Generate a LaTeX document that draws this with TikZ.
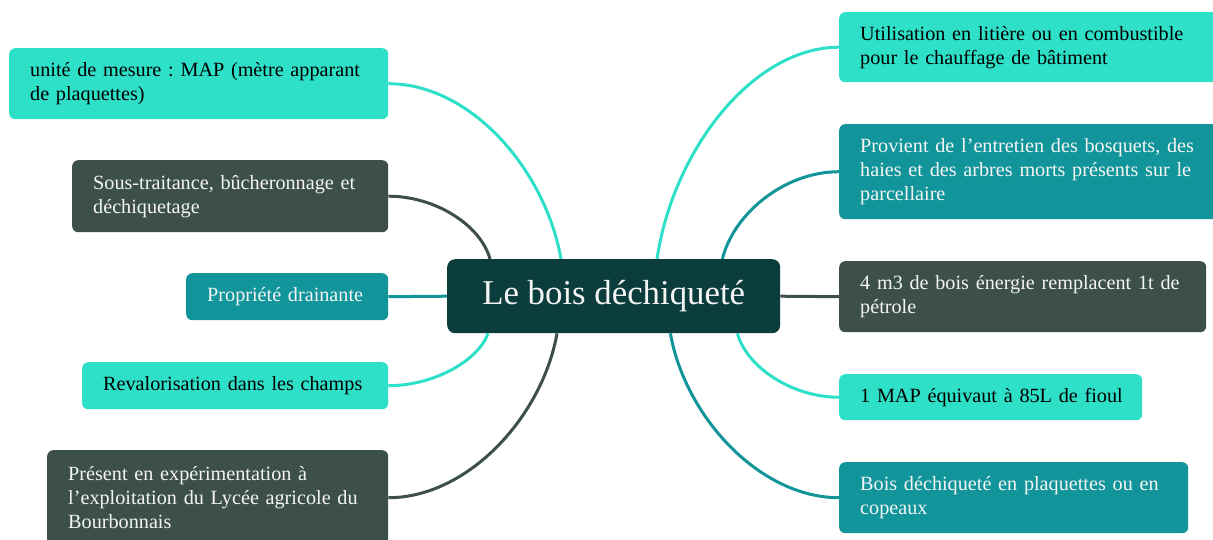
\documentclass[tikz,border=0pt]{standalone}
\usepackage{fontspec}
\setmainfont{Liberation Serif}
\usetikzlibrary{calc,backgrounds}
\definecolor{cTurq}{HTML}{2EE0C8}
\definecolor{cTeal}{HTML}{12959A}
\definecolor{cDark}{HTML}{3D4F4B}
\definecolor{cCore}{HTML}{0B3D3D}
\definecolor{cLight}{HTML}{F4F4F4}
\frenchspacing
\tikzset{
  mmbox/.style={rounded corners=6pt, anchor=north west, inner xsep=21pt, inner ysep=0pt,
    align=left, font=\fontsize{20.2}{24}\selectfont},
  turqbox/.style={mmbox, fill=cTurq, text=black},
  tealbox/.style={mmbox, fill=cTeal, text=cLight},
  darkbox/.style={mmbox, fill=cDark, text=cLight},
  corebox/.style={fill=cCore, rounded corners=8pt, anchor=north west, inner sep=0pt,
    text=cLight, font=\fontsize{34.8}{40}\selectfont},
  link/.style={line width=3pt},
}
\begin{document}
\begin{tikzpicture}[x=1pt,y=-1pt]
\useasboundingbox (0,0) rectangle (1213,539);
\clip (0,0) rectangle (1213,539);

\node[corebox, minimum width=333pt, minimum height=74pt] (ctr) at (447,259) {Le bois déchiqueté};

% left
\node[turqbox, text width=337pt, minimum height=71pt] (L1) at (9,48)
  {\mbox{unité de mesure : MAP (mètre apparant}\\de plaquettes)};
\node[darkbox, text width=274pt, minimum height=72pt] (L2) at (72,160)
  {\mbox{Sous-traitance, bûcheronnage et}\\déchiquetage};
\node[tealbox, text width=160pt, minimum height=47pt] (L3) at (186,273)
  {\mbox{Propriété drainante}};
\node[turqbox, text width=264pt, minimum height=47pt] (L4) at (82,362)
  {\mbox{Revalorisation dans les champs}};
\node[darkbox, text width=299pt, minimum height=95pt] (L5) at (47,450)
  {\mbox{Présent en expérimentation à}\\\mbox{l’exploitation du Lycée agricole du}\\Bourbonnais};

% right
\node[turqbox, text width=337pt, minimum height=70pt] (R1) at (839,12)
  {\mbox{Utilisation en litière ou en combustible}\\\mbox{pour le chauffage de bâtiment}};
\node[tealbox, text width=337pt, minimum height=95pt] (R2) at (839,124)
  {\mbox{Provient de l’entretien des bosquets, des}\\\mbox{haies et des arbres morts présents sur le}\\parcellaire};
\node[darkbox, text width=325pt, minimum height=71pt] (R3) at (839,261)
  {\mbox{4 m3 de bois énergie remplacent 1t de}\\pétrole};
\node[turqbox, text width=261pt, minimum height=46pt] (R4) at (839,374)
  {\mbox{1 MAP équivaut à 85L de fioul}};
\node[tealbox, text width=307pt, minimum height=71pt] (R5) at (839,462)
  {\mbox{Bois déchiqueté en plaquettes ou en}\\copeaux};

\begin{scope}[on background layer]
\fill[white] (0,0) rectangle (1213,539);
\draw[link, cTurq] ($(ctr.north west)!0.342!(ctr.north east)$) .. controls +(-16,-90) and +(82,0) .. (L1.east);
\draw[link, cDark] ($(ctr.north west)!0.129!(ctr.north east)$) .. controls +(-9,-33) and +(48,0) .. (L2.east);
\draw[link, cTeal] (ctr.west) -- (L3.east);
\draw[link, cTurq] ($(ctr.south west)!0.123!(ctr.south east)$) .. controls +(-9,26) and +(47,0) .. (L4.east);
\draw[link, cDark] ($(ctr.south west)!0.33!(ctr.south east)$) .. controls +(-15,84) and +(79,0) .. (L5.east);
\draw[link, cTurq] ($(ctr.north west)!0.63!(ctr.north east)$) .. controls +(16,-109) and +(-86,0) .. (R1.west);
\draw[link, cTeal] ($(ctr.north west)!0.826!(ctr.north east)$) .. controls +(11,-45) and +(-55,0) .. (R2.west);
\draw[link, cDark] (ctr.east) -- (R3.west);
\draw[link, cTurq] ($(ctr.south west)!0.871!(ctr.south east)$) .. controls +(9,33) and +(-48,0) .. (R4.west);
\draw[link, cTeal] ($(ctr.south west)!0.67!(ctr.south east)$) .. controls +(15,84) and +(-79,0) .. (R5.west);
\end{scope}
\end{tikzpicture}
\end{document}
